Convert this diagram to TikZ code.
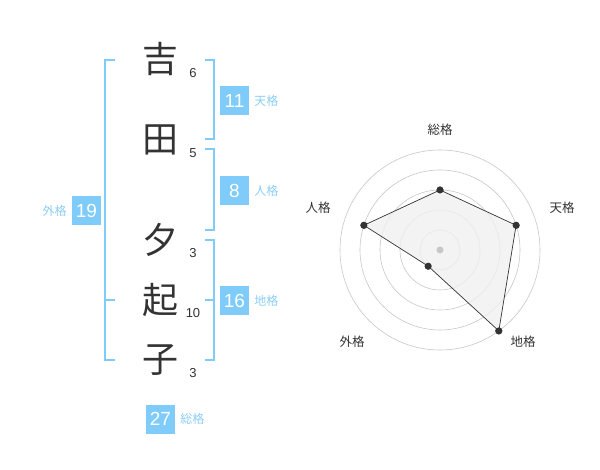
\documentclass[tikz,border=0pt]{standalone}
\usepackage{fontspec}
\usetikzlibrary{positioning}
\setmainfont{Liberation Sans}
\newfontfamily\jpfont{Noto Sans CJK JP}
\definecolor{kakublue}{HTML}{7FCBF9}
\definecolor{kakutext}{HTML}{8CCDF5}
\definecolor{inkgray}{HTML}{333333}
\tikzset{
kanji/.style={text=inkgray,inner sep=0pt,font=\jpfont\fontsize{36}{36}\selectfont},
strokes/.style={text=inkgray,inner sep=0pt,font=\fontsize{13}{13}\selectfont},
kakubox/.style={fill=kakublue,text=white,minimum size=29pt,inner sep=0pt,font=\fontsize{19}{19}\selectfont},
kakulabel/.style={text=kakutext,inner sep=0pt,font=\jpfont\fontsize{12}{12}\selectfont},
bracket/.style={draw=kakublue,line width=1.5pt},
ring/.style={draw=black!22,line width=0.6pt},
dot/.style={circle,fill=inkgray,inner sep=0pt,minimum size=7pt},
axislabel/.style={text=inkgray,inner sep=0pt,font=\jpfont\fontsize{12.5}{12.5}\selectfont}
}
\begin{document}
\begin{tikzpicture}[x=1pt,y=-1pt]
\useasboundingbox (0,0) rectangle (600,470);
% name
\node[kanji] (yoshi) at (160,59) {吉};
\node[kanji] (ta) at (160,140) {田};
\node[kanji] (yuu) at (160,240) {夕};
\node[kanji] (oki) at (160,300) {起};
\node[kanji] (ko) at (160,360) {子};
\node[strokes] (n6) at (193,73) {6};
\node[strokes] (n5) at (193,153) {5};
\node[strokes] (n3a) at (193,253) {3};
\node[strokes] (n10) at (193,313) {10};
\node[strokes] (n3b) at (193,373) {3};
% brackets
\draw[bracket] (115,60) -- (105,60) -- (105,360) -- (115,360); \draw[bracket] (105,300) -- (115,300);
\draw[bracket] (205,60) -- (214,60) -- (214,139) -- (205,139);
\draw[bracket] (205,149) -- (214,149) -- (214,230) -- (205,230);
\draw[bracket] (205,240) -- (214,240) -- (214,360) -- (205,360); \draw[bracket] (205,300) -- (214,300);
% kakusu
\node[kakubox] (ten) at (234.5,100.5) {11};
\node[kakulabel,right=5pt of ten] {天格};
\node[kakubox] (jin) at (234.5,190.5) {8};
\node[kakulabel,right=5pt of jin] {人格};
\node[kakubox] (chi) at (234.5,300.5) {16};
\node[kakulabel,right=5pt of chi] {地格};
\node[kakubox] (gai) at (86.5,210.5) {19};
\node[kakulabel,left=5pt of gai] {外格};
\node[kakubox] (sou) at (160.5,419) {27};
\node[kakulabel,right=5pt of sou] {総格};
% radar
\coordinate (c) at (440,250);
\foreach \r in {20,40,60,80,100} \draw[ring] (c) circle (\r);
\node[dot] (pSou) at (440,190) {};
\node[dot] (pTen) at (516.1,225.3) {};
\node[dot] (pChi) at (498.8,330.9) {};
\node[dot] (pGai) at (428.2,266.2) {};
\node[dot] (pJin) at (363.9,225.3) {};
\fill[black!6,opacity=0.8] (pSou.center) -- (pTen.center) -- (pChi.center) -- (pGai.center) -- (pJin.center) -- cycle;
\fill[black!22] (c) circle (3.5);
\draw[inkgray,line width=0.7pt] (pSou.center) -- (pTen.center) -- (pChi.center) -- (pGai.center) -- (pJin.center) -- cycle;
\foreach \p in {pSou,pTen,pChi,pGai,pJin} \fill[inkgray] (\p) circle (3.5);
\node[axislabel] (lSou) at (440,130) {総格};
\node[axislabel] (lTen) at (562,208) {天格};
\node[axislabel] (lChi) at (523,342) {地格};
\node[axislabel] (lGai) at (352,342) {外格};
\node[axislabel] (lJin) at (318,208) {人格};
\end{tikzpicture}
\end{document}
